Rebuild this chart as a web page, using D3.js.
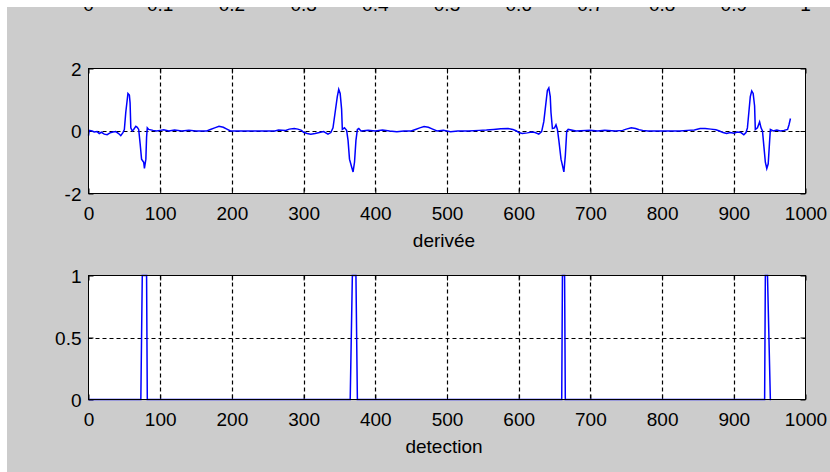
<!DOCTYPE html>
<html>
<head>
<meta charset="utf-8">
<script src="https://cdn.jsdelivr.net/npm/d3@7"></script>
<style>
  body { margin: 0; background: #cccccc; }
  svg { display: block; }
  text { font-family: "Liberation Sans", Arial, sans-serif; font-size: 19px; fill: #000; }
</style>
</head>
<body>
<div id="chart"></div>
<script>
// derivative of the signal (upper panel)
const deriveeX = [0, 1, 5, 8, 12, 15, 18, 22, 26, 30, 34, 38, 42, 45, 48, 50, 52, 54, 55, 57, 58, 59, 61, 63, 66, 68, 70, 72, 74, 77, 78, 80, 81, 82, 84, 90, 95, 100, 105, 112, 120, 130, 140, 150, 165, 170, 176, 182, 188, 193, 198, 205, 240, 260, 265, 275, 280, 287, 292, 297, 300, 305, 310, 316, 322, 328, 334, 338, 341, 344, 347, 349, 351, 353, 354, 357, 360, 362, 364, 367, 369, 371, 373, 375, 377, 380, 390, 400, 410, 420, 430, 440, 450, 456, 462, 468, 474, 480, 486, 495, 505, 515, 530, 545, 555, 565, 575, 585, 592, 597, 600, 605, 612, 618, 623, 628, 632, 635, 638, 640, 642, 644, 645, 647, 650, 652, 654, 656, 659, 661, 663, 665, 667, 669, 680, 700, 710, 720, 735, 745, 750, 757, 763, 768, 773, 780, 800, 825, 835, 845, 853, 860, 868, 875, 880, 885, 890, 895, 900, 905, 910, 914, 917, 919, 921, 923, 925, 927, 929, 930, 933, 936, 938, 940, 942, 944, 946, 948, 950, 951, 955, 960, 965, 970, 975, 977, 979];
const deriveeY = [-0.15, 0.02, 0.0, -0.03, -0.02, -0.08, -0.04, -0.1, -0.12, -0.06, -0.03, -0.02, -0.08, -0.15, -0.05, 0.05, 0.6, 1.0, 1.2, 1.15, 0.9, 0.1, 0.0, 0.05, 0.15, 0.12, 0.05, -0.4, -0.9, -1.0, -1.2, -0.9, -0.2, 0.1, 0.05, 0.02, 0.0, 0.02, 0.04, 0.0, 0.03, 0.0, 0.02, 0.0, 0.0, 0.05, 0.1, 0.15, 0.12, 0.06, 0.0, 0.0, 0.0, 0.0, 0.03, 0.02, 0.06, 0.08, 0.06, 0.02, -0.04, -0.08, -0.1, -0.08, -0.05, -0.02, -0.1, -0.05, 0.1, 0.6, 1.1, 1.33, 1.2, 0.7, 0.05, 0.1, 0.02, -0.3, -0.9, -1.15, -1.31, -1.0, -0.3, 0.05, 0.08, 0.0, 0.02, 0.0, 0.03, 0.0, -0.02, 0.0, 0.0, 0.05, 0.1, 0.14, 0.12, 0.06, 0.0, 0.02, -0.02, 0.0, 0.0, 0.02, 0.03, 0.05, 0.07, 0.08, 0.05, 0.0, -0.05, -0.08, -0.06, -0.03, -0.05, -0.1, -0.02, 0.3, 0.9, 1.3, 1.38, 1.1, 0.6, 0.08, 0.1, 0.2, 0.05, -0.3, -0.9, -1.1, -1.31, -0.8, 0.0, 0.05, 0.0, 0.02, 0.0, 0.02, 0.0, 0.02, 0.06, 0.1, 0.08, 0.04, 0.02, 0.0, 0.0, 0.0, 0.02, 0.03, 0.08, 0.08, 0.06, 0.04, 0.0, -0.05, -0.08, -0.05, -0.07, -0.03, -0.05, -0.12, -0.05, 0.1, 0.6, 1.1, 1.28, 1.2, 0.8, 0.05, 0.1, 0.29, 0.1, 0.0, -0.5, -1.0, -1.2, -1.05, -0.3, 0.05, 0.0, 0.03, 0.0, 0.02, 0.05, 0.2, 0.4];

// detection pulses (lower panel)
const detectionX = [0, 73, 75, 81, 82, 365, 368, 373, 375, 660, 661, 664, 665, 943, 944, 947, 951, 952];
const detectionY = [0, 0, 1, 1, 0, 0, 1, 1, 0, 0, 1, 1, 0, 0, 1, 1, 0, 0];

const xTicks = [0, 100, 200, 300, 400, 500, 600, 700, 800, 900, 1000];
const deriveeTicks = [-2, 0, 2];
const detectionTicks = [0, 0.5, 1];
const cutTicks = [0, 0.1, 0.2, 0.3, 0.4, 0.5, 0.6, 0.7, 0.8, 0.9, 1];

const width = 830, height = 472;
const left = 88.5, right = 805.5;

const svg = d3.select('#chart').append('svg')
  .attr('width', width)
  .attr('height', height);

svg.append('rect').attr('width', width).attr('height', height).attr('fill', '#cccccc');

// tick labels of the panel above, cut off by the frame
let xCut = d3.scaleLinear().domain([0, 1]).range([left, right]);
svg.append('g').selectAll('text')
  .data(cutTicks)
  .enter()
  .append('text')
  .attr('x', d => xCut(d))
  .attr('y', 11)
  .attr('text-anchor', 'middle')
  .text(d => String(d));

svg.append('rect').attr('width', width).attr('height', 7).attr('fill', '#fff');
svg.append('rect').attr('width', 7).attr('height', height).attr('fill', '#fff');

let xScale = d3.scaleLinear().domain([0, 1000]).range([left, right]);
const fmt = d => String(d);

function panel(top, bottom, yDomain, yTicks, gridY, xs, ys, label) {
  let yScale = d3.scaleLinear().domain(yDomain).range([bottom, top]);
  let g = svg.append('g');

  g.append('rect')
    .attr('x', left).attr('y', top)
    .attr('width', right - left).attr('height', bottom - top)
    .attr('fill', '#fff');

  let grid = g.append('g').attr('class', 'grid');
  grid.selectAll('line.xgrid')
    .data(xTicks.slice(1, -1))
    .enter()
    .append('line')
    .attr('x1', d => Math.round(xScale(d)) + 0.5)
    .attr('x2', d => Math.round(xScale(d)) + 0.5)
    .attr('y1', top)
    .attr('y2', bottom)
    .style('stroke', '#000')
    .style('stroke-width', 1.2)
    .style('stroke-dasharray', '4,3');
  grid.selectAll('line.ygrid')
    .data(gridY)
    .enter()
    .append('line')
    .attr('x1', left)
    .attr('x2', right)
    .attr('y1', d => Math.round(yScale(d)) + 0.5)
    .attr('y2', d => Math.round(yScale(d)) + 0.5)
    .style('stroke', '#000')
    .style('stroke-width', 1.2)
    .style('stroke-dasharray', '4,3');

  let axB = g.append('g')
    .attr('transform', 'translate(0,' + bottom + ')')
    .call(d3.axisBottom(xScale).tickValues(xTicks).tickFormat(fmt).tickSizeInner(-5).tickSizeOuter(0).tickPadding(0));
  axB.selectAll('text').attr('dy', null).attr('y', 26);
  g.append('g')
    .attr('transform', 'translate(0,' + top + ')')
    .call(d3.axisTop(xScale).tickValues(xTicks).tickSizeInner(-5).tickSizeOuter(0).tickFormat(''));
  let axL = g.append('g')
    .attr('transform', 'translate(' + left + ',0)')
    .call(d3.axisLeft(yScale).tickValues(yTicks).tickFormat(fmt).tickSizeInner(-5).tickSizeOuter(0).tickPadding(7));
  axL.selectAll('text').attr('x', -7).attr('dy', '0.36em');
  g.append('g')
    .attr('transform', 'translate(' + right + ',0)')
    .call(d3.axisRight(yScale).tickValues(yTicks).tickSizeInner(-5).tickSizeOuter(0).tickFormat(''));
  g.selectAll('.domain').remove();
  g.selectAll('.tick line').style('stroke', '#000');
  g.selectAll('.tick text').style('font-size', '19px').style('font-family', '"Liberation Sans", Arial, sans-serif').attr('fill', '#000');

  let line = d3.line()
    .x(i => xScale(xs[i]))
    .y(i => yScale(ys[i]));
  g.append('path')
    .datum(d3.range(xs.length))
    .attr('d', line)
    .attr('fill', 'none')
    .attr('stroke', '#0000ff')
    .attr('stroke-width', 1.5);

  g.append('rect')
    .attr('x', left).attr('y', top)
    .attr('width', right - left).attr('height', bottom - top)
    .attr('fill', 'none')
    .attr('stroke', '#000');

  g.append('text')
    .attr('x', 444)
    .attr('y', bottom + 53.5)
    .attr('text-anchor', 'middle')
    .text(label);
}

panel(68.5, 193.5, [-2, 2], deriveeTicks, [0], deriveeX, deriveeY, 'derivée');
panel(275.5, 399.5, [0, 1], detectionTicks, [0.5], detectionX, detectionY, 'detection');
</script>
</body>
</html>
